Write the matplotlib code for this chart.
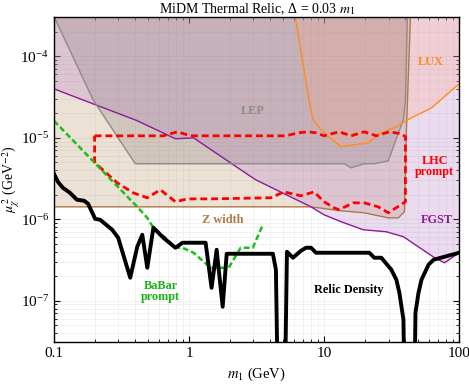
import numpy as np
import matplotlib
matplotlib.use("Agg")
import matplotlib.pyplot as plt

plt.rcParams['font.family'] = ['Liberation Serif', 'DejaVu Serif']
plt.rcParams['mathtext.fontset'] = 'stix'

# thermal relic curve (black)
relic_m = [0.1, 0.107, 0.1166, 0.1315, 0.148, 0.167, 0.179, 0.202, 0.22, 0.27,
           0.299, 0.367, 0.414, 0.451, 0.491, 0.545, 0.646, 0.794, 0.895, 1.327,
           1.469, 1.602, 1.775, 1.901, 4.18, 4.40, 4.63, 5.04, 5.31, 5.88,
           6.75, 7.35, 8.0, 8.72, 21.61, 23.53, 26.54, 31.48, 34.28, 36.11,
           38.68, 40.03, 45.89, 47.49, 50.0, 52.63, 59.35, 64.62, 77.98, 100]
relic_mu2 = [3.62e-6, 2.88e-6, 2.43e-6, 2.11e-6, 1.735e-6, 1.69e-6, 1.55e-6, 1.01e-6, 9.86e-7, 7.43e-7,
             5.93e-7, 1.915e-7, 4.60e-7, 6.45e-7, 2.54e-7, 7.87e-7, 5.93e-7, 4.47e-7, 5.15e-7, 5.15e-7,
             1.44e-7, 4.22e-7, 8.44e-8, 3.77e-7, 3.77e-7, 2.40e-7, 1e-9, 1e-9, 3.99e-7, 3.37e-7,
             4.11e-7, 4.47e-7, 4.47e-7, 3.88e-7, 3.88e-7, 3.37e-7, 3.37e-7, 2.40e-7, 1.81e-7, 1.25e-7,
             5.85e-8, 1e-9, 1e-9, 7.13e-8, 1.25e-7, 1.81e-7, 2.77e-7, 3.18e-7, 3.47e-7, 3.88e-7]

# BaBar prompt (green dashed)
babar_m = [0.1, 0.414, 0.491, 0.545, 0.669, 0.794, 0.895, 1.08, 1.445, 1.967, 2.415, 2.966, 3.52]
babar_mu2 = [1.62e-5, 1.42e-6, 1.04e-6, 7.87e-7, 5.93e-7, 4.47e-7, 4.47e-7, 3.88e-7,
             2.54e-7, 2.54e-7, 4.47e-7, 4.47e-7, 8.56e-7]

# FGST bound (purple)
fgst_m = [0.1, 0.414, 0.794, 1.08, 2.415, 3.12, 8.0, 10.0, 13.37, 19.5, 28.9, 38.68, 65.75, 77.98, 100]
fgst_mu2 = [3.99e-5, 1.62e-5, 9.72e-6, 1.0e-5, 4.05e-6, 3.05e-6, 1.42e-6, 1.135e-6, 9.32e-7,
            7.43e-7, 7.02e-7, 6.10e-7, 3.37e-7, 2.92e-7, 3.88e-7]

# LEP bound (gray)
lep_m = [0.1, 0.195, 0.40, 14.08, 15.88, 19.83, 23.53, 29.91, 35.48, 38.68, 40.03, 41.4]
lep_mu2 = [3.1e-4, 2.92e-5, 4.80e-6, 4.80e-6, 4.28e-6, 4.80e-6, 4.80e-6, 5.22e-6,
           1.15e-5, 1.66e-5, 2.92e-5, 3.1e-4]

# Z width bound (brown)
zw_m = [0.1, 8.0, 13.37, 19.83, 29.91, 35.48, 39.35, 40.72, 43.6]
zw_mu2 = [1.42e-6, 1.42e-6, 1.27e-6, 1.20e-6, 1.04e-6, 1.04e-6, 1.24e-6, 1.25e-5, 3.1e-4]

# LUX bound (orange)
lux_m = [6.1, 7.10, 7.73, 8.28, 10.0, 13.37, 21.24, 26.54, 33.14, 44.35, 62.45, 100]
lux_mu2 = [3.1e-4, 6.83e-5, 2.92e-5, 1.66e-5, 1.15e-5, 7.76e-6, 8.68e-6, 1.15e-5,
           1.33e-5, 1.76e-5, 2.33e-5, 4.60e-5]

# LHC prompt contour (red dashed, closed)
lhc_m = [0.2, 0.646, 0.821, 1.026, 5.22, 6.41, 7.60, 8.72, 10.0, 12.93, 15.88, 19.83,
         24.36, 30.43, 37.37, 40.03, 40.03, 29.91, 25.21, 19.83, 16.43, 12.93, 11.87,
         10.0, 8.43, 6.75, 5.04, 4.04, 1.445, 0.975, 0.794, 0.614, 0.491, 0.387,
         0.294, 0.209, 0.2, 0.2]
lhc_mu2 = [1.058e-5, 1.058e-5, 1.185e-5, 1.058e-5, 1.058e-5, 1.15e-5, 1.185e-5, 1.15e-5,
           1.058e-5, 1.185e-5, 1.058e-5, 1.185e-5, 1.058e-5, 1.185e-5, 1.12e-5, 1.03e-5,
           1.64e-6, 1.20e-6, 1.42e-6, 1.59e-6, 1.59e-6, 1.31e-6, 1.38e-6, 1.64e-6,
           2.17e-6, 1.94e-6, 2.17e-6, 1.835e-6, 1.78e-6, 1.78e-6, 1.64e-6, 2.30e-6,
           1.835e-6, 2.11e-6, 2.80e-6, 4.66e-6, 5.07e-6, 1.058e-5]

TOP = 1e-3

fig, ax = plt.subplots(figsize=(4.69, 3.84), dpi=100)
fig.subplots_adjust(left=0.115, right=0.979, bottom=0.109, top=0.956)
ax.set_xscale('log')
ax.set_yscale('log')
ax.set_xlim(0.1, 100)
ax.set_ylim(3.1e-8, 3.05e-4)
ax.grid(True, which='both', color='#efefef', lw=0.6)
ax.set_axisbelow(True)


def shade(xs, ys, color, alpha):
    px = list(xs) + [xs[-1], xs[0]]
    py = list(ys) + [TOP, TOP]
    ax.fill(px, py, color=color, alpha=alpha, lw=0)


shade(zw_m, zw_mu2, (0.75, 0.62, 0.46), 0.3)
shade(fgst_m, fgst_mu2, (0.70, 0.45, 0.765), 0.25)
shade(lep_m, lep_mu2, (0.5, 0.45, 0.47), 0.24)
shade(lux_m, lux_mu2, (1.0, 0.64, 0.47), 0.21)

ax.plot(zw_m, zw_mu2, color=(0.68, 0.48, 0.28), lw=1)
ax.plot(fgst_m, fgst_mu2, color=(0.55, 0.1, 0.6), lw=1)
ax.plot(lep_m, lep_mu2, color=(0.55, 0.55, 0.55), lw=1)
ax.plot(lux_m, lux_mu2, color=(1.0, 0.55, 0.1), lw=1)

ax.plot(lhc_m, lhc_mu2, color='red', lw=2, ls=(0, (2.5, 1.4)))
ax.plot(babar_m, babar_mu2, color=(0.1, 0.75, 0.1), lw=1.8, ls=(0, (2.3, 1.2)))
ax.plot(relic_m, relic_mu2, color='black', lw=2.8)

lab = dict(fontsize=8.8, fontweight='bold', ha='center', va='center')
ax.text(2.97, 2.14e-5, 'LEP', color=(0.55, 0.55, 0.55), **lab)
ax.text(61.4, 8.56e-5, 'LUX', color=(1.0, 0.55, 0.1), **lab)
ax.text(66, 4.41e-6, 'LHC\nprompt', color='red', linespacing=0.9, **lab)
ax.text(68, 9.86e-7, 'FGST', color=(0.55, 0.1, 0.6), **lab)
ax.text(1.775, 9.86e-7, 'Z width', color=(0.68, 0.48, 0.28), **lab)
ax.text(0.614, 1.29e-7, 'BaBar\nprompt', color=(0.1, 0.7, 0.1), linespacing=0.9, **lab)
ax.text(15.1, 1.36e-7, 'Relic Density', color='black', **lab)

ax.set_xticks([0.1, 1, 10, 100])
ax.set_xticklabels(['0.1', '1', '10', '100'])
ax.set_yticks([1e-7, 1e-6, 1e-5, 1e-4])
ax.tick_params(which='both', direction='in', top=True, right=True, labelsize=11)
ax.tick_params(which='major', length=4)
ax.tick_params(which='minor', length=2)
for s in ax.spines.values():
    s.set_linewidth(1)

ax.set_title('MiDM Thermal Relic, Δ = 0.03 $m_1$', fontsize=10, pad=3)
ax.set_xlabel('$m_1$ (GeV)', fontsize=10.5)
ax.set_ylabel(r'$\mu_\chi^{\,2}$ (GeV$^{-2}$)', fontsize=10)
ax.yaxis.set_label_coords(-0.079, 0.5)

fig.savefig('out.png', dpi=100)
